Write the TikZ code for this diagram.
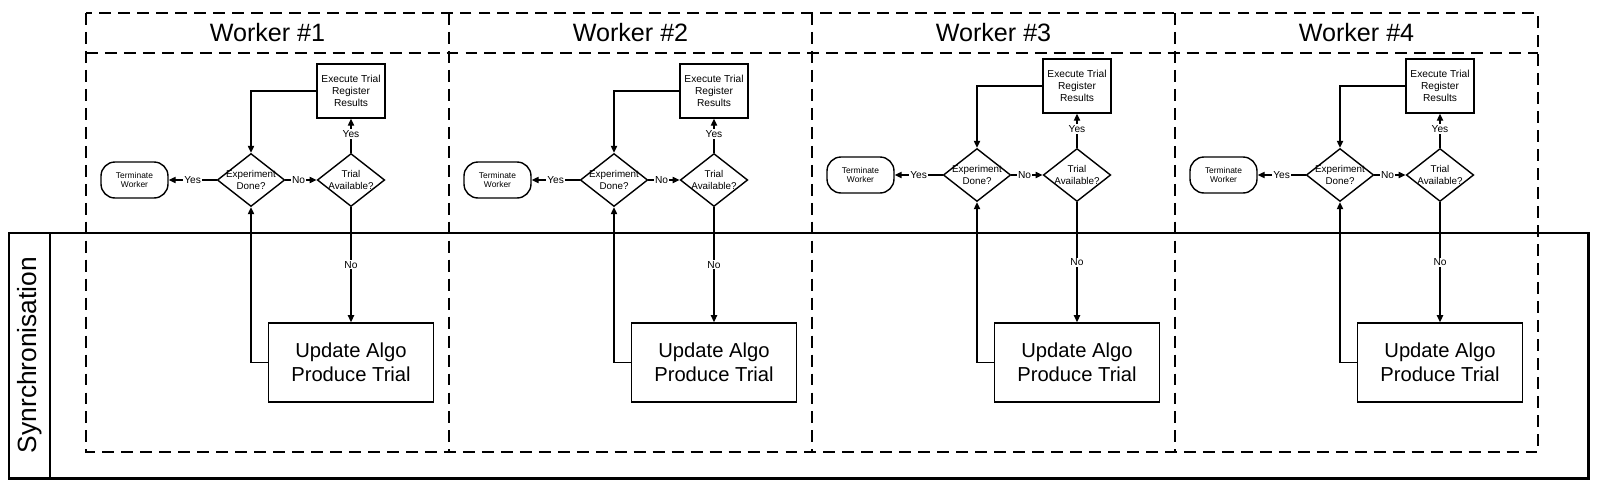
\documentclass[tikz,border=0pt]{standalone}
\usepackage{fontspec}
\setmainfont{Liberation Sans}
\usetikzlibrary{shapes.geometric,arrows.meta,positioning}

\begin{document}
\begin{tikzpicture}[x=0.02cm, y=-0.02cm,
    lane/.style={line width=1pt, dash pattern=on 6.8pt off 4pt},
    sync/.style={line width=1.7pt},
    stepbox/.style={draw, line width=0.8pt, minimum width=1.36cm, minimum height=1.08cm, align=center, inner sep=1pt, font=\fontsize{5.8}{6.9}\selectfont},
    decision/.style={diamond, draw, line width=0.8pt, minimum width=1.35cm, minimum height=1.06cm, inner sep=0pt},
    dtext/.style={font=\fontsize{5.6}{6.6}\selectfont, align=center, inner sep=0pt},
    endbox/.style={draw, rounded corners=0.28cm, line width=0.8pt, minimum width=1.34cm, minimum height=0.72cm, align=center, font=\fontsize{4.8}{5.6}\selectfont},
    algobox/.style={draw, line width=0.9pt, minimum width=3.3cm, minimum height=1.58cm, align=center, font=\fontsize{11.5}{13.6}\selectfont},
    arr/.style={-{Triangle[length=4pt,width=3.6pt]}, line width=0.7pt},
    lbl/.style={fill=white, inner sep=0.6pt, font=\fontsize{5.8}{6.5}\selectfont}
  ]
  \useasboundingbox (0,0) rectangle (1599,487);

  % synchronisation pool
  \draw[sync] (9,233) rectangle (1588,478);
  \draw[sync] (50,233) -- (50,478);
  \node[rotate=90, font=\fontsize{15}{18}\selectfont] (synclabel) at (29.5,355) {Synrchronisation};

  % worker lanes
  \draw[lane] (86,13) rectangle (1538,452);
  \draw[lane] (86,53) -- (1538,53);
  \foreach \x in {449,812,1175}
    \draw[lane] (\x,13) -- (\x,452);

  \foreach \i/\dy in {1/0,2/0,3/-5,4/-5}{
    \pgfmathsetmacro{\xo}{86+363*(\i-1)}
    \node[font=\fontsize{14.3}{16}\selectfont] (head\i) at (\xo+181.5,33) {Worker \#\i};
    \node[endbox] (term\i) at (\xo+48.5,180+\dy) {Terminate\\Worker};
    \node[decision, label={[dtext]center:{Experiment\\Done?}}] (done\i) at (\xo+165,180+\dy) {};
    \node[decision, label={[dtext]center:{Trial\\Available?}}] (avail\i) at (\xo+265,180+\dy) {};
    \node[stepbox] (exec\i) at (\xo+265,91+\dy) {Execute Trial\\Register\\Results};
    \node[algobox] (upd\i) at (\xo+265,362.5) {Update Algo\\Produce Trial};

    \draw[arr] (done\i.west) -- node[lbl] {Yes} (term\i.east);
    \draw[arr] (done\i.east) -- node[lbl, pos=0.42] {No} (avail\i.west);
    \draw[arr] (avail\i.north) -- node[lbl, pos=0.55] {Yes} (exec\i.south);
    \draw[arr] (avail\i.south) -- node[lbl] {No} (upd\i.north);
    \draw[arr] (exec\i.west) -| (done\i.north);
    \draw[arr] (upd\i.west) -| (done\i.south);
  }
\end{tikzpicture}
\end{document}
